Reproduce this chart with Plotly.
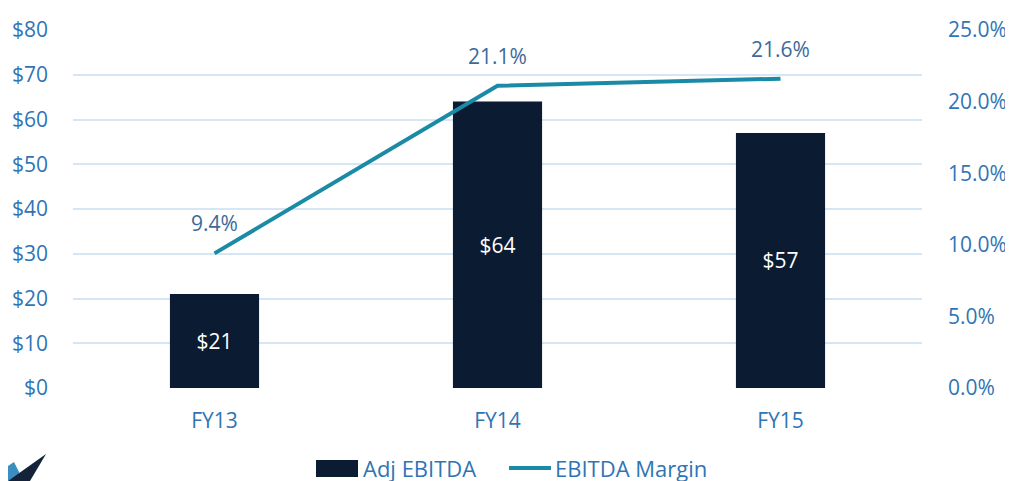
import plotly.graph_objects as go

categories = ["FY13", "FY14", "FY15"]
adj_ebitda = [21, 64, 57]
ebitda_margin = [9.4, 21.1, 21.6]
left_ticks = [0, 10, 20, 30, 40, 50, 60, 70, 80]
right_ticks = [0, 5, 10, 15, 20, 25]
series_names = ["Adj EBITDA", "EBITDA Margin"]

FONT = "Open Sans"
BLUE = "#2f75b5"
NAVY = "#0b1b31"
TEAL = "#1b8aa6"
GRID = "#d6e6f4"
FS = 21

fig = go.Figure()
fig.add_trace(go.Bar(
    x=categories, y=adj_ebitda, name=series_names[0],
    marker=dict(color=NAVY, line=dict(width=0)),
    width=0.315,
    text=[f"${v}" for v in adj_ebitda], textposition="inside",
    insidetextanchor="middle",
    textfont=dict(color="white", size=FS, family=FONT),
    showlegend=False,
))
fig.add_trace(go.Scatter(
    x=categories, y=ebitda_margin, name=series_names[1], yaxis="y2",
    mode="lines", line=dict(color=TEAL, width=4),
    showlegend=False,
))
for c, v in zip(categories, ebitda_margin):
    fig.add_annotation(x=c, y=v, xref="x", yref="y2", text=f"{v:.1f}%",
                       showarrow=False, yshift=30,
                       font=dict(color="#3d6a99", size=FS, family=FONT))

# helpers: page pixel -> paper fraction (plot area spans page x 73..922, y 30..388)
def px(xp):
    return (xp - 73) / 849
def py(yp):
    return (388 - yp) / 358

# legend drawn below the chart
LEG_Y = 468
fig.add_shape(type="rect", xref="paper", yref="paper",
              x0=px(316), x1=px(358), y0=py(LEG_Y - 8), y1=py(LEG_Y + 9),
              fillcolor=NAVY, line=dict(width=0))
fig.add_annotation(xref="paper", yref="paper", x=px(361), y=py(LEG_Y),
                   xanchor="left", yanchor="middle", showarrow=False,
                   text=series_names[0], font=dict(size=22, color=BLUE, family=FONT))
fig.add_shape(type="line", xref="paper", yref="paper",
              x0=px(509), x1=px(551), y0=py(LEG_Y), y1=py(LEG_Y),
              line=dict(color=TEAL, width=4))
fig.add_annotation(xref="paper", yref="paper", x=px(553), y=py(LEG_Y),
                   xanchor="left", yanchor="middle", showarrow=False,
                   text=series_names[1], font=dict(size=22, color=BLUE, family=FONT))

# logo-like decoration bottom-left
fig.add_shape(type="path", xref="paper", yref="paper",
              path=f"M {px(8)},{py(466)} L {px(14)},{py(462)} L {px(20)},{py(474)} L {px(8)},{py(481)} Z",
              fillcolor="#3a8fc0", line=dict(width=0), layer="above")
fig.add_shape(type="path", xref="paper", yref="paper",
              path=f"M {px(8)},{py(481)} L {px(46)},{py(454)} L {px(30)},{py(481)} Z",
              fillcolor="#14233a", line=dict(width=0), layer="above")

fig.update_layout(
    width=1013, height=481,
    margin=dict(l=65, r=99, t=22, b=101, autoexpand=False),
    paper_bgcolor="white", plot_bgcolor="white",
    font=dict(family=FONT, size=FS, color=BLUE),
    showlegend=False,
    xaxis=dict(showgrid=False, showline=False, ticks="", tickfont=dict(size=FS, color=BLUE),
               range=[-0.5, 2.5], automargin=False, ticklabelstandoff=18),
    yaxis=dict(range=[0, 80], tickvals=left_ticks, ticktext=[f"${v}" for v in left_ticks],
               showgrid=True, gridcolor=GRID, gridwidth=1.5, zeroline=False,
               showline=False, ticks="", ticklabelstandoff=24, automargin=False,
               tickfont=dict(size=FS, color=BLUE)),
    yaxis2=dict(range=[0, 25], tickvals=right_ticks,
                ticktext=[f"{v:.1f}%" for v in right_ticks],
                overlaying="y", side="right", showgrid=False, zeroline=False,
                showline=False, ticks="", ticklabelstandoff=25, automargin=False,
                tickfont=dict(size=FS, color=BLUE)),
)
fig.write_html("out.html")
